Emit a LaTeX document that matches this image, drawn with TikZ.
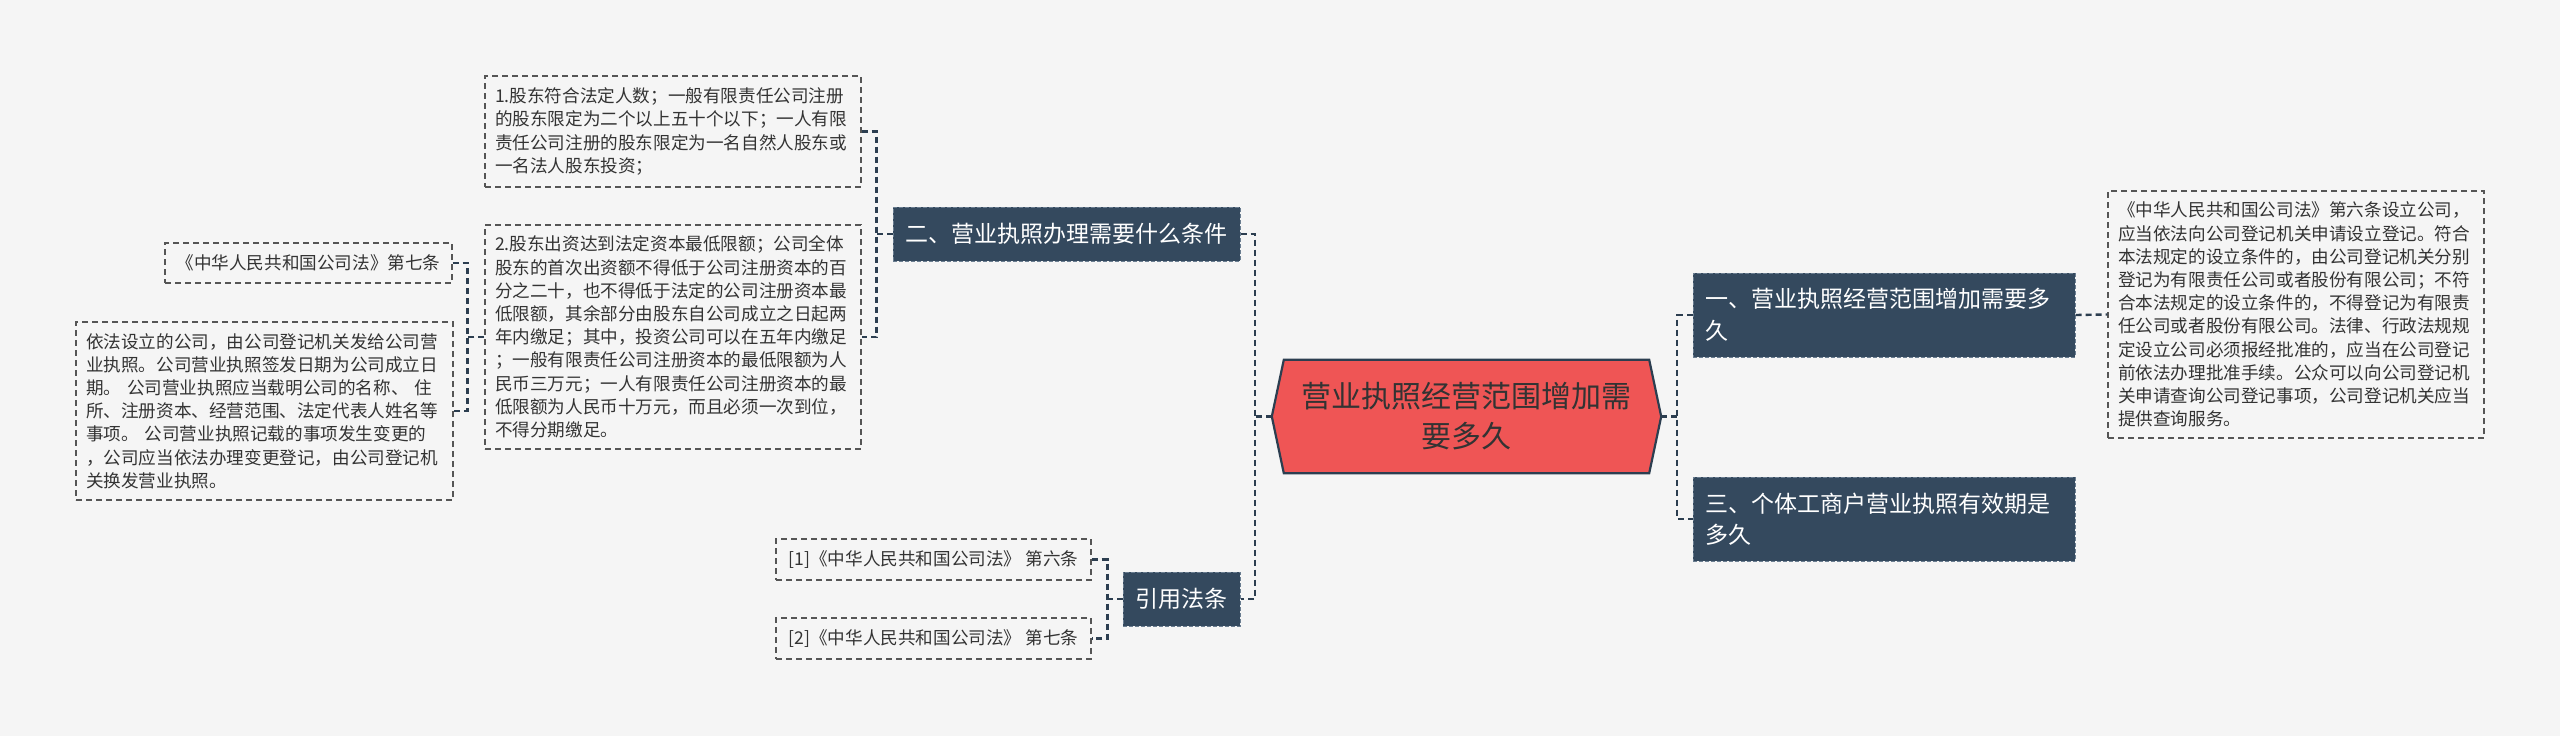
\documentclass[tikz,border=0pt]{standalone}
\usepackage{fontspec}
\setmainfont{Noto Sans CJK SC}
\usetikzlibrary{positioning}
\definecolor{bgc}{HTML}{F5F5F5}
\definecolor{darkn}{HTML}{34495E}
\definecolor{darkb}{HTML}{6A7D90}
\definecolor{redn}{HTML}{EF5555}
\definecolor{linec}{HTML}{2C3E50}
\definecolor{txt}{HTML}{333333}
\definecolor{boxb}{HTML}{555555}
\pgfdeclarelayer{bg}
\pgfsetlayers{bg,main}
\begin{document}
\begin{tikzpicture}[x=1pt,y=-1pt,
  conn/.style={draw=linec,line width=2.4pt,dash pattern=on 6pt off 4pt},
  txtbox/.style={draw=boxb,line width=1.4pt,dash pattern=on 6pt off 4pt,fill=bgc,text=txt,
    font=\fontsize{17.6}{23.2}\selectfont,inner xsep=10pt,inner ysep=0pt,align=left},
  onebox/.style={draw=boxb,line width=1.4pt,dash pattern=on 6pt off 4pt,fill=bgc,text=txt,
    font=\fontsize{17.6}{23.2}\selectfont,inner sep=0pt,align=center},
  darkbox/.style={draw=darkb,line width=1pt,dash pattern=on 4pt off 2pt,fill=darkn,text=white,
    font=\fontsize{23}{31.5}\selectfont,inner xsep=12pt,inner ysep=0pt,align=left}
]
\begin{pgfonlayer}{bg}
\fill[bgc] (0,0) rectangle (2560,736);
\end{pgfonlayer}
\useasboundingbox (0,0) rectangle (2560,736);

% central
\node[minimum width=389pt,minimum height=113pt,inner sep=0pt,align=center,text=txt,
  font=\fontsize{30}{40}\selectfont] (c) at (1466.5,416.5) {营业执照经营范围增加需\\要多久};
\begin{pgfonlayer}{bg}
\filldraw[fill=redn,draw=linec,line width=2.2pt] (c.west) -- ([xshift=12pt]c.north west) -- ([xshift=-12pt]c.north east) -- (c.east) -- ([xshift=-12pt]c.south east) -- ([xshift=12pt]c.south west) -- cycle;
\end{pgfonlayer}

% right side
\node[darkbox,minimum width=382pt,minimum height=84pt,text width=358pt] (n1) at (1884,315) {一、营业执照经营范围增加需要多\\久};
\node[darkbox,minimum width=382pt,minimum height=84pt,text width=358pt] (n3) at (1884,519) {三、个体工商户营业执照有效期是\\多久};
\node[txtbox,minimum width=376pt,minimum height=247pt,text width=356pt] (rb) at (2296,314.5) {《中华人民共和国公司法》第六条设立公司，\\应当依法向公司登记机关申请设立登记。符合\\本法规定的设立条件的，由公司登记机关分别\\登记为有限责任公司或者股份有限公司；不符\\合本法规定的设立条件的，不得登记为有限责\\任公司或者股份有限公司。法律、行政法规规\\定设立公司必须报经批准的，应当在公司登记\\前依法办理批准手续。公众可以向公司登记机\\关申请查询公司登记事项，公司登记机关应当\\提供查询服务。};

% left side
\node[darkbox,minimum width=347pt,minimum height=54pt,align=center,inner xsep=0pt] (n2) at (1066.5,234) {二、营业执照办理需要什么条件};
\node[darkbox,minimum width=117pt,minimum height=54pt,align=center,inner xsep=0pt] (ref) at (1181.5,599) {引用法条};

\node[txtbox,minimum width=376pt,minimum height=111pt,text width=356pt] (b1) at (673,131.5) {1.股东符合法定人数；一般有限责任公司注册\\的股东限定为二个以上五十个以下；一人有限\\责任公司注册的股东限定为一名自然人股东或\\一名法人股东投资；};
\node[txtbox,minimum width=376pt,minimum height=224pt,text width=356pt] (b2) at (673,337) {2.股东出资达到法定资本最低限额；公司全体\\股东的首次出资额不得低于公司注册资本的百\\分之二十，也不得低于法定的公司注册资本最\\低限额，其余部分由股东自公司成立之日起两\\年内缴足；其中，投资公司可以在五年内缴足\\；一般有限责任公司注册资本的最低限额为人\\民币三万元；一人有限责任公司注册资本的最\\低限额为人民币十万元，而且必须一次到位，\\不得分期缴足。};

\node[onebox,minimum width=287pt,minimum height=40pt] (l1) at (308.5,263) {《中华人民共和国公司法》第七条};
\node[txtbox,minimum width=377pt,minimum height=178pt,text width=357pt] (l2) at (264.5,411) {依法设立的公司，由公司登记机关发给公司营\\业执照。公司营业执照签发日期为公司成立日\\期。~公司营业执照应当载明公司的名称、~住\\所、注册资本、经营范围、法定代表人姓名等\\事项。~公司营业执照记载的事项发生变更的\\，公司应当依法办理变更登记，由公司登记机\\关换发营业执照。};

\node[onebox,minimum width=315pt,minimum height=41pt] (r1) at (933.5,559.5) {[1]《中华人民共和国公司法》~第六条};
\node[onebox,minimum width=315pt,minimum height=41pt] (r2) at (933.5,638.5) {[2]《中华人民共和国公司法》~第七条};

% connectors
\draw[conn] (c.west) -- ++(-17,0) coordinate (sL);
\draw[conn] (n2.east) -| (sL) |- (ref.east);
\draw[conn] (c.east) -- ++(16,0) coordinate (sR);
\draw[conn] (n1.west) -| (sR) |- (n3.west);
\draw[conn] (n1.east) -- (rb.west);

\draw[conn] (n2.west) -- ++(-16,0) coordinate (s2);
\draw[conn] (b1.east) -| (s2) |- (b2.east);

\draw[conn] (b2.west) -- ++(-17,0) coordinate (s3);
\draw[conn] (l1.east) -| (s3) |- (l2.east);

\draw[conn] (ref.west) -- ++(-15,0) coordinate (s4);
\draw[conn] (r1.east) -| (s4) |- (r2.east);
\end{tikzpicture}
\end{document}
